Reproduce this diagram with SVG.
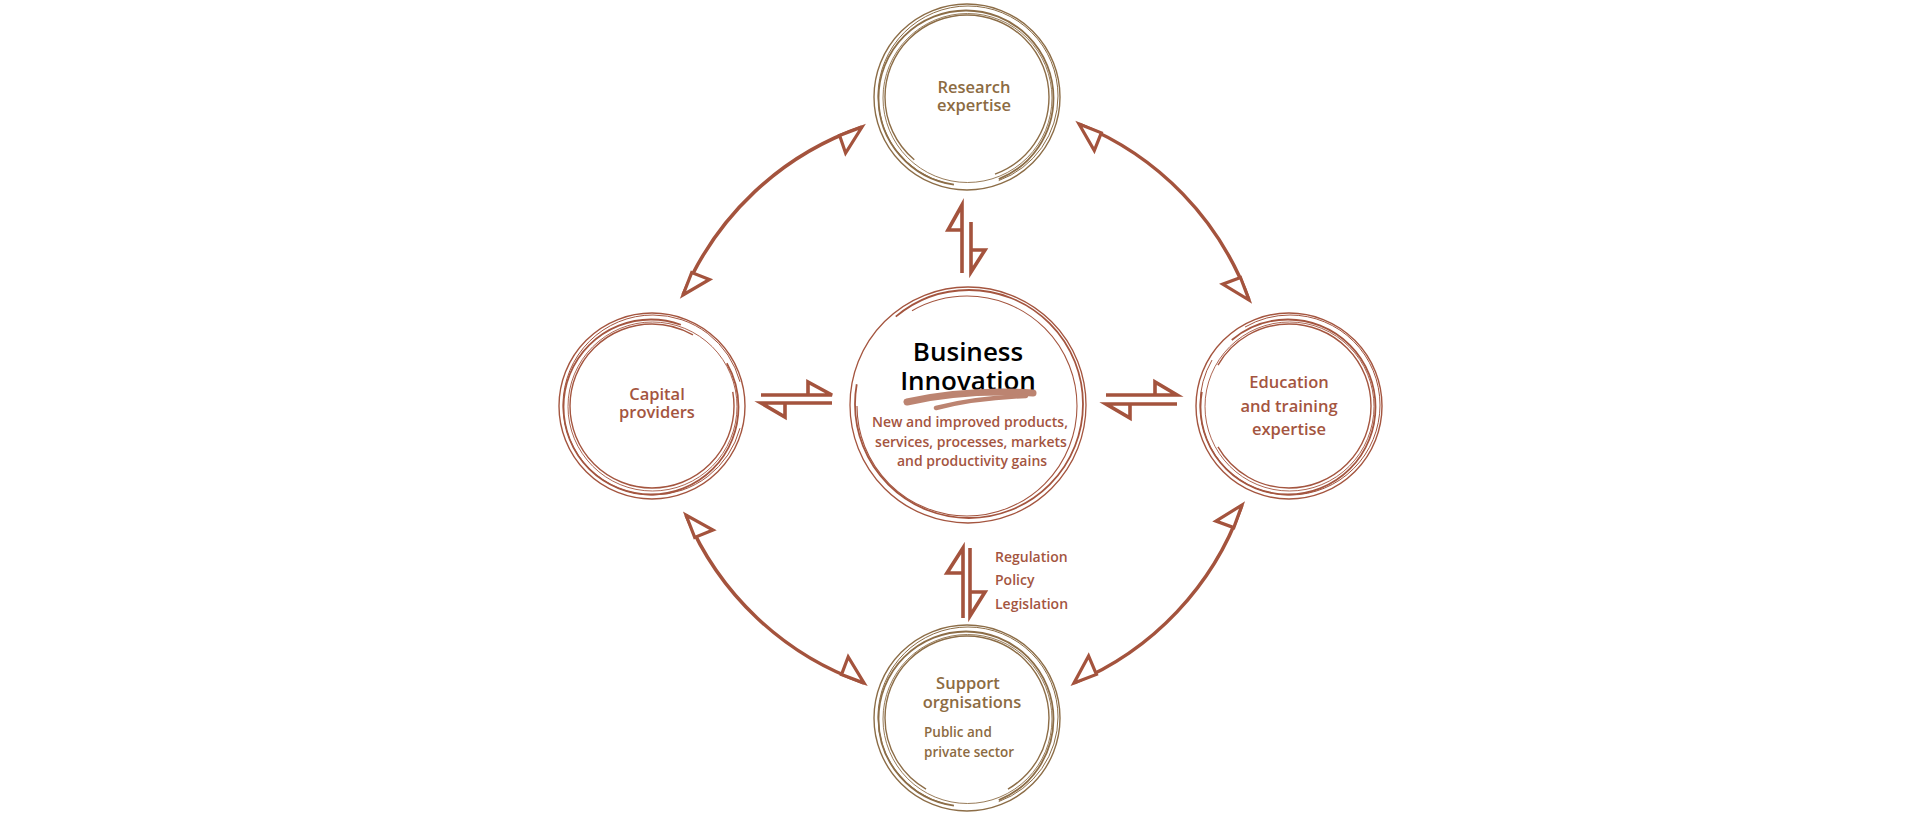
<svg xmlns="http://www.w3.org/2000/svg" width="1920" height="824" viewBox="0 0 1920 824">
<style>
.rc{fill:none;stroke:#A4553F}
.gc{fill:none;stroke:#8C6D47}
.conn{fill:none;stroke:#A4533D;stroke-width:3.5}
.head{fill:#fff;stroke:#A4533D;stroke-width:3.2;stroke-linejoin:miter}
.dbl{fill:none;stroke:#A4533D;stroke-width:3.6;stroke-linejoin:miter}
.t{font-family:"Open Sans","Noto Sans","Liberation Sans",sans-serif;font-weight:600;text-anchor:middle}
.lbl{font-size:16.5px}
.red{fill:#A4553F}
.gold{fill:#8C6B42}
.sub{font-size:13.5px}
.title{font-family:"Open Sans","Noto Sans","Liberation Sans",sans-serif;font-weight:600;font-size:26px;fill:#000;text-anchor:middle}
</style>
<rect width="1920" height="824" fill="#fff"/>

<g id="connectors">
  <path class="conn" d="M862 127 A300 300 0 0 0 683 295"/>
  <polygon class="head" points="862,127 839.6,135.5 845.6,153"/>
  <polygon class="head" points="683,295 691.7,272.6 709.5,279.5"/>
  <path class="conn" d="M1079 124 A300 300 0 0 1 1249 300"/>
  <polygon class="head" points="1079,124 1101.3,132.8 1094.3,150.5"/>
  <polygon class="head" points="1249,300 1240.5,277.5 1222.7,284.2"/>
  <path class="conn" d="M686 515 A300 300 0 0 0 864 683"/>
  <polygon class="head" points="686,515 694.7,537.4 713,530"/>
  <polygon class="head" points="864,683 841.5,674.6 848.2,656.8"/>
  <path class="conn" d="M1242 505 A300 300 0 0 1 1074 683"/>
  <polygon class="head" points="1242,505 1233.8,527.6 1215.9,521.1"/>
  <polygon class="head" points="1074,683 1096.4,674.4 1088.6,656"/>

  <path class="dbl" d="M962 273 V205 L948 230 H962"/>
  <path class="dbl" d="M971 222 V272 L985 250 H971"/>
  <path class="dbl" d="M963 618 V548 L947 573 H963"/>
  <path class="dbl" d="M970 548 V616 L985 592 H970"/>
  <path class="dbl" d="M761 395 H832 L808 382 V395"/>
  <path class="dbl" d="M832 403 H761 L785 417 V403"/>
  <path class="dbl" d="M1106 395 H1177 L1155 382 V395"/>
  <path class="dbl" d="M1177 404 H1106 L1130 418 V404"/>
</g>

<g id="research">
  <circle class="gc" cx="967" cy="97" r="93" stroke-width="1.4"/>
  <circle class="gc" cx="968" cy="96" r="90" stroke-width="1" pathLength="360" stroke-dasharray="325 35" stroke-dashoffset="255"/>
  <circle class="gc" cx="966" cy="98" r="87.5" stroke-width="1.8" pathLength="360" stroke-dasharray="330 30" stroke-dashoffset="262"/>
  <circle class="gc" cx="967.5" cy="98" r="84.5" stroke-width="0.9"/>
  <circle class="gc" cx="967" cy="97" r="82" stroke-width="1.4" pathLength="360" stroke-dasharray="300 60" stroke-dashoffset="230"/>
  <text class="t lbl gold" x="974" y="93">Research</text>
  <text class="t lbl gold" x="974" y="111">expertise</text>
</g>

<g id="capital">
  <circle class="rc" cx="652" cy="406" r="93" stroke-width="1.4"/>
  <circle class="rc" cx="653" cy="405" r="90" stroke-width="1" pathLength="360" stroke-dasharray="330 30" stroke-dashoffset="345"/>
  <circle class="rc" cx="651" cy="407" r="87.5" stroke-width="1.8" pathLength="360" stroke-dasharray="320 40" stroke-dashoffset="30"/>
  <circle class="rc" cx="652.5" cy="406.5" r="84.5" stroke-width="0.9"/>
  <circle class="rc" cx="652" cy="406" r="82" stroke-width="1.4" pathLength="360" stroke-dasharray="310 50" stroke-dashoffset="10"/>
  <text class="t lbl red" x="657" y="400">Capital</text>
  <text class="t lbl red" x="657" y="418">providers</text>
</g>

<g id="innovation">
  <circle class="rc" cx="968" cy="405" r="118" stroke-width="1.3"/>
  <circle class="rc" cx="969" cy="404" r="114" stroke-width="1.8" pathLength="360" stroke-dasharray="320 40" stroke-dashoffset="130"/>
  <circle class="rc" cx="967" cy="406" r="110" stroke-width="1.1" pathLength="360" stroke-dasharray="300 60" stroke-dashoffset="120"/>
  <text class="title" x="968" y="361">Business</text>
  <text class="title" x="968" y="390">Innovation</text>
  <path d="M907 402 Q965 389 1033 393" fill="none" stroke="#BC8471" stroke-width="7" stroke-linecap="round"/>
  <path d="M1026 396 Q975 398 936 408" fill="none" stroke="#BC8471" stroke-width="4.5" stroke-linecap="round"/>
  <text class="t red" style="font-size:14px" x="970" y="427">New and improved products,</text>
  <text class="t red" style="font-size:14px" x="971" y="447">services, processes, markets</text>
  <text class="t red" style="font-size:14px" x="972" y="466">and productivity gains</text>
</g>

<g id="education">
  <circle class="rc" cx="1289" cy="406" r="93" stroke-width="1.4"/>
  <circle class="rc" cx="1290" cy="405" r="90" stroke-width="1" pathLength="360" stroke-dasharray="330 30" stroke-dashoffset="120"/>
  <circle class="rc" cx="1288" cy="407" r="87.5" stroke-width="1.8" pathLength="360" stroke-dasharray="320 40" stroke-dashoffset="130"/>
  <circle class="rc" cx="1289.5" cy="406.5" r="84.5" stroke-width="0.9"/>
  <circle class="rc" cx="1289" cy="406" r="82" stroke-width="1.4" pathLength="360" stroke-dasharray="300 60" stroke-dashoffset="150"/>
  <text class="t lbl red" x="1289" y="388">Education</text>
  <text class="t lbl red" x="1289" y="412">and training</text>
  <text class="t lbl red" x="1289" y="435">expertise</text>
</g>

<g id="support">
  <circle class="gc" cx="967" cy="718" r="93" stroke-width="1.4"/>
  <circle class="gc" cx="968" cy="717" r="90" stroke-width="1" pathLength="360" stroke-dasharray="325 35" stroke-dashoffset="255"/>
  <circle class="gc" cx="966" cy="719" r="87.5" stroke-width="1.8" pathLength="360" stroke-dasharray="330 30" stroke-dashoffset="262"/>
  <circle class="gc" cx="967.5" cy="719" r="84.5" stroke-width="0.9"/>
  <circle class="gc" cx="967" cy="718" r="82" stroke-width="1.4" pathLength="360" stroke-dasharray="300 60" stroke-dashoffset="240"/>
  <text class="t lbl gold" x="968" y="689">Support</text>
  <text class="t lbl gold" x="972" y="708">orgnisations</text>
  <text class="t sub gold" style="text-anchor:start" x="924" y="737">Public and</text>
  <text class="t sub gold" style="text-anchor:start" x="924" y="757">private sector</text>
</g>

<g id="policy-labels">
  <text class="t sub red" style="text-anchor:start;font-size:14px" x="995" y="562">Regulation</text>
  <text class="t sub red" style="text-anchor:start;font-size:14px" x="995" y="585">Policy</text>
  <text class="t sub red" style="text-anchor:start;font-size:14px" x="995" y="609">Legislation</text>
</g>
</svg>
